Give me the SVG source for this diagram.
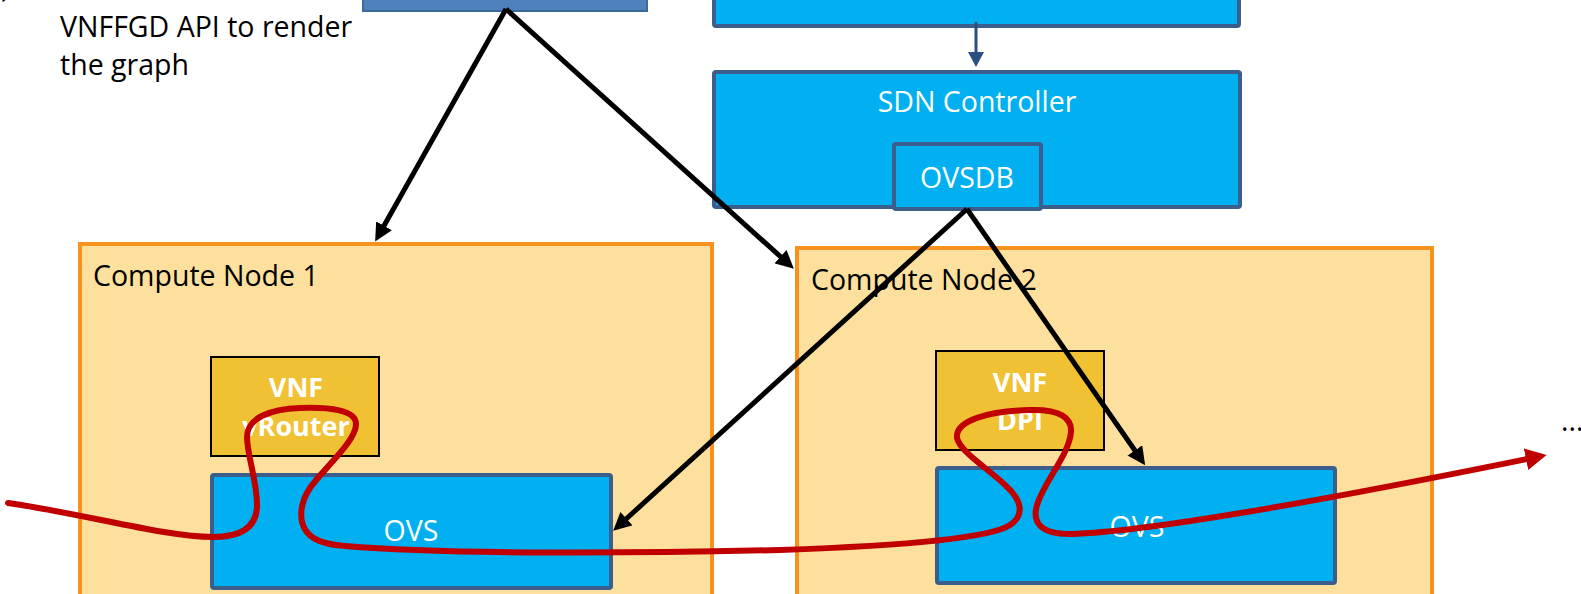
<svg xmlns="http://www.w3.org/2000/svg" width="1581" height="594" viewBox="0 0 1581 594">
<style>
.t{font-family:"Open Sans","Liberation Sans",sans-serif;font-size:28.5px;}
.dark{fill:#000000;}
.w{fill:#FFFFFF;}
.b{font-weight:bold;font-size:27px;}
.cyan{fill:#00B0F0;stroke:#3B5E8C;stroke-width:4;}
.node{fill:#FDE09E;stroke:#F7921E;stroke-width:4;}
.vnf{fill:#F0C233;stroke:#000000;stroke-width:2;}
.conn{stroke:#000000;stroke-width:5;fill:none;marker-end:url(#ah);}
</style>
<defs>
<marker id="ah" markerUnits="userSpaceOnUse" markerWidth="20" markerHeight="18" refX="2" refY="9" orient="auto" viewBox="0 0 20 18">
<path d="M0,0 L18,9 L0,18 z" fill="#000000"/>
</marker>
<marker id="ahb" markerUnits="userSpaceOnUse" markerWidth="16" markerHeight="16" refX="1" refY="8" orient="auto" viewBox="0 0 16 16">
<path d="M0,0 L15,8 L0,16 z" fill="#2B4F7E"/>
</marker>
<marker id="ahr" markerUnits="userSpaceOnUse" markerWidth="22" markerHeight="22" refX="1" refY="11" orient="auto" viewBox="0 0 22 22">
<path d="M0,0 L21,11 L0,22 z" fill="#C00000"/>
</marker>
</defs>

<g id="fragment">
<text class="t dark" x="1" y="-3">)</text>
</g>

<g id="label-vnffgd">
<text class="t dark" x="60" y="37">VNFFGD API to render</text>
<text class="t dark" x="60" y="75">the graph</text>
</g>

<g id="orchestrator">
<rect x="363" y="-20" width="284" height="31" fill="#4F81BD" stroke="#3A6A9E" stroke-width="2"/>
</g>

<g id="top-cyan">
<rect class="cyan" x="714" y="-20" width="525" height="46" rx="2"/>
</g>

<g id="sdn-controller">
<rect class="cyan" x="714" y="72" width="526" height="135" rx="2"/>
<text class="t w" x="977" y="112" text-anchor="middle">SDN Controller</text>
</g>

<g id="ovsdb">
<rect class="cyan" x="894" y="144" width="147" height="65" rx="2"/>
<text class="t w" x="967" y="188" text-anchor="middle">OVSDB</text>
</g>

<g id="compute-node-1">
<rect class="node" x="80" y="244" width="632" height="370"/>
<text class="t dark" x="93" y="286">Compute Node 1</text>
</g>

<g id="compute-node-2">
<rect class="node" x="797" y="248" width="635" height="370"/>
<text class="t dark" x="811" y="290">Compute Node 2</text>
</g>

<g id="vnf-vrouter">
<rect class="vnf" x="211" y="357" width="168" height="99"/>
<text class="t w b" x="296" y="397" text-anchor="middle">VNF</text>
<text class="t w b" x="296" y="436" text-anchor="middle">vRouter</text>
</g>

<g id="ovs-1">
<rect class="cyan" x="212" y="475" width="399" height="113" rx="2"/>
<text class="t w" x="411" y="541" text-anchor="middle">OVS</text>
</g>

<g id="vnf-dpi">
<rect class="vnf" x="936" y="351" width="168" height="99"/>
<text class="t w b" x="1020" y="392" text-anchor="middle">VNF</text>
<text class="t w b" x="1020" y="430" text-anchor="middle">DPI</text>
</g>

<g id="ovs-2">
<rect class="cyan" x="937" y="468" width="398" height="115" rx="2"/>
<text class="t w" x="1137" y="537" text-anchor="middle">OVS</text>
</g>

<g id="ellipsis">
<text class="t dark" x="1561" y="431">...</text>
</g>

<g id="connectors">
<line x1="976" y1="22" x2="976" y2="53" stroke="#2B4F7E" stroke-width="3" marker-end="url(#ahb)"/>
<line class="conn" x1="506" y1="9" x2="383" y2="227.5"/>
<line class="conn" x1="506" y1="9" x2="782" y2="258"/>
<line class="conn" x1="967" y1="209" x2="625" y2="520"/>
<line class="conn" x1="967" y1="209" x2="1136" y2="452"/>
<path d="M8,503 C90,515 165,537 213,537 C240,537 257,528 257,505 C257,480 247,455 247,437 C247,418 270,409 300,408 C330,407 356,410 356,424 C356,442 322,470 310,488 C302,500 300,512 302,522 C306,538 320,544 345,546 C450,555 650,553 780,550 C900,546 990,538 1010,525 C1025,515 1022,500 1005,485 C990,470 960,452 957,438 C955,420 990,411 1030,410 C1060,409 1072,418 1071,432 C1069,455 1045,480 1037,505 C1032,522 1040,534 1070,534 C1150,532 1350,495 1527,459" fill="none" stroke="#C00000" stroke-width="6" stroke-linecap="round" stroke-linejoin="round" marker-end="url(#ahr)"/>
</g>
</svg>
